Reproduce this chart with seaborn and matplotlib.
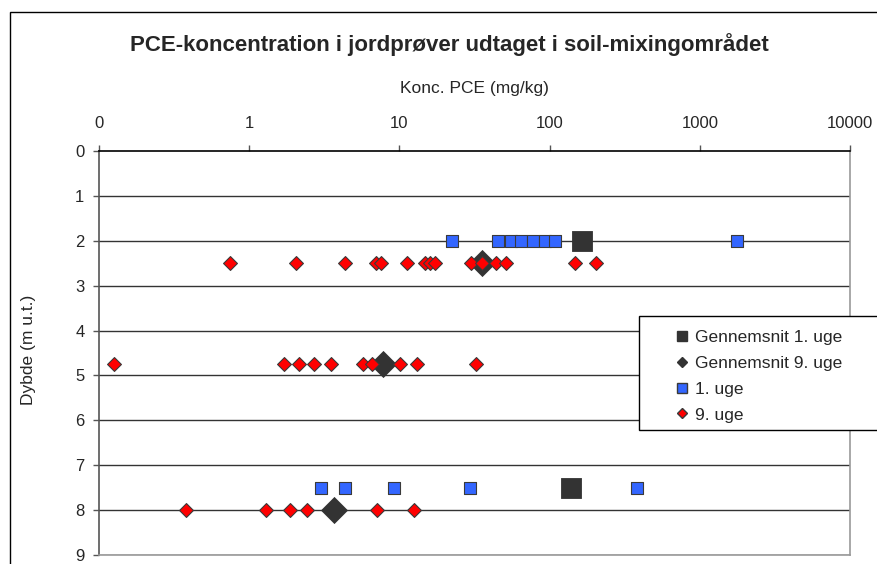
import numpy as np
import pandas as pd
import matplotlib
matplotlib.use("Agg")
import matplotlib.pyplot as plt
from matplotlib.lines import Line2D
from matplotlib.patches import Rectangle
import seaborn as sns

# ---------------- data ----------------
uge1_depth = [2, 2, 2, 2, 2, 2, 2, 2, 7.5, 7.5, 7.5, 7.5, 7.5]
uge1_conc = [22.5, 1763, 45.4, 55.6, 64.8, 77.1, 92.5, 109, 3.0, 4.36, 9.18, 29.3, 381]

uge9_depth = [2.5] * 15 + [4.75] * 10 + [8] * 6
uge9_conc = [0.743, 2.05, 4.34, 6.97, 7.5, 11.2, 14.7, 16.1, 17.2, 30.1, 35.5, 44.0, 51.5, 147, 204,
             0.125, 1.70, 2.14, 2.72, 3.52, 5.75, 6.53, 10.07, 13.1, 32.5,
             0.379, 1.29, 1.88, 2.43, 7.11, 12.5]

avg1_depth = [2, 7.5]
avg1_conc = [165, 139]

avg9_depth = [2.5, 4.75, 8]
avg9_conc = [35.5, 7.80, 3.69]

x_ticks = [0.1, 1, 10, 100, 1000, 10000]
x_ticklabels = ["0", "1", "10", "100", "1000", "10000"]
y_ticks = list(range(0, 10))

title = "PCE-koncentration i jordprøver udtaget i soil-mixingområdet"
xlabel = "Konc. PCE (mg/kg)"
ylabel = "Dybde (m u.t.)"
labels = ["Gennemsnit 1. uge", "Gennemsnit 9. uge", "1. uge", "9. uge"]

# ---------------- style ----------------
sns.set_theme(style="white")
plt.rcParams["font.family"] = ["Liberation Sans", "DejaVu Sans"]

W, H = 878, 564
fig = plt.figure(figsize=(W / 100, H / 100), dpi=100)
fig.patch.set_facecolor("white")

# outer chart frame
fig.patches.append(Rectangle((10 / W, -0.2), 1.2, 1 - 12 / H + 0.2, transform=fig.transFigure,
                             fill=False, edgecolor="black", linewidth=1.0, zorder=0))

ax_l, ax_r, ax_t, ax_b = 99, 850, 151, 555
ax = fig.add_axes([ax_l / W, 1 - ax_b / H, (ax_r - ax_l) / W, (ax_b - ax_t) / H])
ax.set_facecolor("white")

edge = "#3a3a3a"
sns.scatterplot(x=avg1_conc, y=avg1_depth, marker="s", s=205, color="#333333",
                edgecolor="#333333", linewidth=0.6, ax=ax, zorder=3, legend=False)
sns.scatterplot(x=avg9_conc, y=avg9_depth, marker="D", s=175, color="#333333",
                edgecolor="#333333", linewidth=0.6, ax=ax, zorder=3, legend=False)
sns.scatterplot(x=uge1_conc, y=uge1_depth, marker="s", s=85, color="#3366FF",
                edgecolor=edge, linewidth=0.8, ax=ax, zorder=4, legend=False)
sns.scatterplot(x=uge9_conc, y=uge9_depth, marker="D", s=50, color="#FF0000",
                edgecolor=edge, linewidth=0.8, ax=ax, zorder=5, legend=False)

ax.set_xscale("log")
ax.set_xlim(0.1, 10000)
ax.set_ylim(9, 0)
ax.xaxis.tick_top()
ax.xaxis.set_label_position("top")
ax.set_xticks(x_ticks)
ax.set_xticklabels(x_ticklabels)
ax.xaxis.set_minor_locator(matplotlib.ticker.NullLocator())
ax.set_yticks(y_ticks)
ax.set_yticklabels([str(v) for v in y_ticks])

ax.tick_params(axis="x", which="major", direction="out", length=4.5, width=1, color="#555555",
               labelsize=12, pad=10, top=True, bottom=False, labeltop=True, labelbottom=False)
ax.tick_params(axis="y", which="major", direction="out", length=4.5, width=1, color="#555555",
               labelsize=12, pad=6, left=True)

ax.set_xlabel(xlabel, fontsize=12.5)
ax.xaxis.set_label_coords(0.5, (ax_b - 88) / (ax_b - ax_t))
ax.xaxis.label.set_va("center")
ax.set_ylabel(ylabel, fontsize=12.5)
ax.yaxis.set_label_coords((29 - ax_l) / (ax_r - ax_l), (ax_b - 350) / (ax_b - ax_t))
ax.yaxis.label.set_va("center")

for yv in y_ticks[1:]:
    ax.axhline(yv, color="#333333", linewidth=1.0, zorder=1)

ax.spines["top"].set_color("black")
ax.spines["top"].set_linewidth(1.2)
ax.spines["left"].set_color("#555555")
ax.spines["left"].set_linewidth(1.2)
ax.spines["right"].set_color("#999999")
ax.spines["right"].set_linewidth(1.2)
ax.spines["bottom"].set_color("#999999")
ax.spines["bottom"].set_linewidth(1.2)

fig.text(449 / W, 1 - 45 / H, title, ha="center", va="center", fontsize=16, fontweight="bold")

# legend box
handles = [
    Line2D([], [], marker="s", linestyle="none", markersize=7, color="#333333", markeredgecolor="#333333"),
    Line2D([], [], marker="D", linestyle="none", markersize=5.5, color="#333333", markeredgecolor="#333333"),
    Line2D([], [], marker="s", linestyle="none", markersize=7, color="#3366FF", markeredgecolor=edge),
    Line2D([], [], marker="D", linestyle="none", markersize=5.5, color="#FF0000", markeredgecolor=edge),
]
fig.patches.append(Rectangle((639 / W, 1 - 430 / H), 0.5, (430 - 316) / H, transform=fig.transFigure,
                             facecolor="white", edgecolor="black", linewidth=1.0, zorder=10))
leg = fig.legend(handles, labels, loc="upper left", bbox_to_anchor=(658 / W, 1 - 314 / H),
                 frameon=False, fontsize=12.5, handlelength=1.0, handletextpad=0.25,
                 labelspacing=0.62, borderpad=0.4)
leg.set_zorder(11)

fig.savefig("out.png", dpi=100)
